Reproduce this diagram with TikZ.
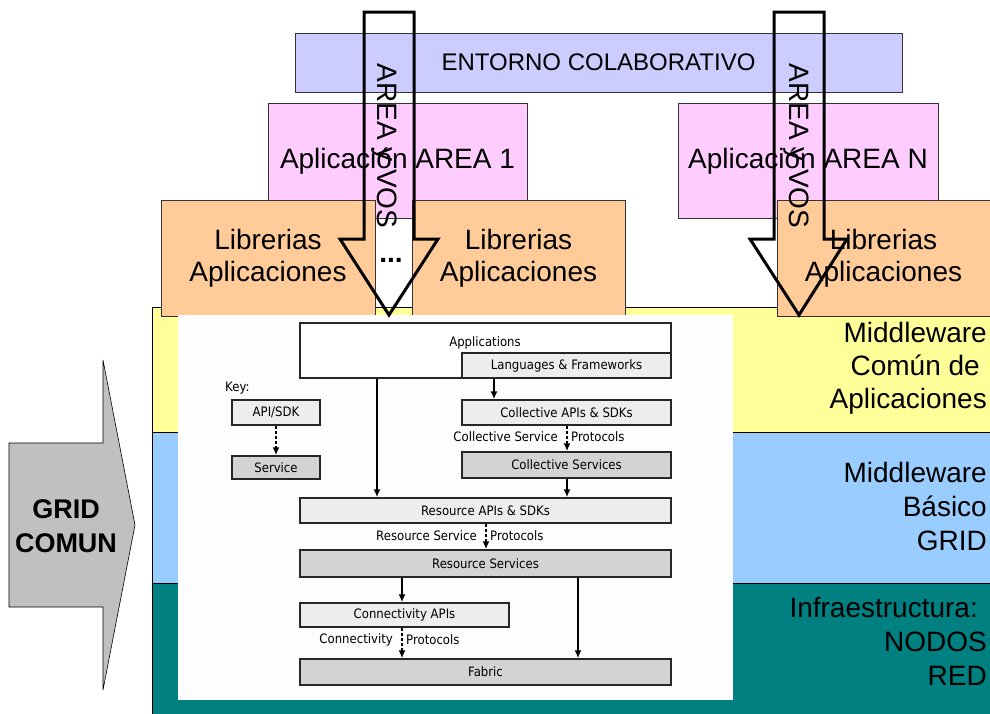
\documentclass[tikz,border=0pt]{standalone}
\usepackage{fontspec}
\setmainfont{Liberation Sans}
\newfontfamily\globusfont[FakeStretch=0.9]{DejaVu Sans}
\usetikzlibrary{arrows.meta, positioning}
\definecolor{capayel}{HTML}{FFFF99}
\definecolor{capablue}{HTML}{99CCFF}
\definecolor{capateal}{HTML}{008080}
\definecolor{entorno}{HTML}{CCCCFF}
\definecolor{areapink}{HTML}{FFCCFF}
\definecolor{libpeach}{HTML}{FFCC99}
\definecolor{gridgray}{HTML}{C0C0C0}
\definecolor{apigray}{HTML}{EDEDED}
\definecolor{svcgray}{HTML}{D3D3D3}
\definecolor{figbg}{HTML}{FDFDFD}

\begin{document}
\begin{tikzpicture}[x=1pt, y=-1pt,
	layer/.style={draw, line width=0.8pt},
	block/.style={draw=black!80, line width=0.8pt, align=center, font=\fontsize{28}{32}\selectfont},
	gbox/.style={draw=black!85, line width=1.5pt, inner sep=0, font=\globusfont\fontsize{13}{15}\selectfont},
	api/.style={gbox, fill=apigray},
	svc/.style={gbox, fill=svcgray},
	lbl/.style={inner sep=0, font=\globusfont\fontsize{13}{15}\selectfont},
	side/.style={align=right, inner sep=0},
	big/.style={draw, line width=3pt, line join=miter},
	arr/.style={->, line width=1.6pt},
	dsh/.style={->, line width=1.6pt, dash pattern=on 3pt off 2pt},
	>={Latex[length=8pt, width=7pt]}
	]
	\useasboundingbox (0,0) rectangle (990,713);
	
	% capas
	\draw[layer, fill=capayel] (152,307) rectangle (998,432);
	\draw[layer, fill=capablue] (152,432) rectangle (998,583);
	\draw[layer, fill=capateal] (152,583) rectangle (998,720);
	
	\node[block, fill=entorno, minimum width=607pt, minimum height=59pt,
		font=\fontsize{24}{28}\selectfont] (entorno) at (598.5,62.5) {ENTORNO COLABORATIVO};
	\node[block, fill=areapink, minimum width=259pt, minimum height=115pt] (area1) at (397.5,161) {Aplicación AREA 1};
	\node[block, fill=areapink, minimum width=260pt, minimum height=115pt] (arean) at (808,161) {Aplicación AREA N};
	\node[block, fill=libpeach, minimum width=214pt, minimum height=116pt] (lib1) at (268,258) {Librerias\\Aplicaciones};
	\node[block, fill=libpeach, minimum width=213pt, minimum height=116pt] (lib2) at (518.5,258) {Librerias\\Aplicaciones};
	\node[block, fill=libpeach, minimum width=213pt, minimum height=116pt] (lib3) at (883.5,258) {Librerias\\Aplicaciones};
	\node[anchor=base, font=\bfseries\fontsize{28}{32}\selectfont] (dots) at (391,262) {...};
	
	% arquitectura
	\fill[figbg] (178,315) rectangle (733,700);
	\node[gbox, fill=white, minimum width=371pt, minimum height=55pt] (apps) at (485.5,350.5) {};
	\node[lbl] (appstxt) at (485,343) {Applications};
	\node[api, minimum width=209pt, minimum height=25pt] (lang) at (566.5,365.5) {Languages \& Frameworks};
	\node[lbl, anchor=west] (key) at (225,388) {Key:};
	\node[api, minimum width=88pt, minimum height=25pt] (apisdk) at (276,412.5) {API/SDK};
	\node[svc, minimum width=88pt, minimum height=23pt] (service) at (276,467.5) {Service};
	\node[api, minimum width=209pt, minimum height=25pt] (colapi) at (566.5,412.5) {Collective APIs \& SDKs};
	\node[svc, minimum width=209pt, minimum height=26pt] (colsvc) at (566.5,465) {Collective Services};
	\node[api, minimum width=371pt, minimum height=25pt] (resapi) at (485.5,510.5) {Resource APIs \& SDKs};
	\node[svc, minimum width=371pt, minimum height=27pt] (ressvc) at (485.5,563.5) {Resource Services};
	\node[api, minimum width=209pt, minimum height=24pt] (conapi) at (404.5,615) {Connectivity APIs};
	\node[svc, minimum width=371pt, minimum height=26pt] (fabric) at (485.5,672) {Fabric};
	
	\draw[arr] (377,0 |- apps.south) -- (377,0 |- resapi.north);
	\draw[arr] (494,0 |- lang.south) -- (494,0 |- colapi.north);
	\draw[arr] (567,0 |- colsvc.south) -- (567,0 |- resapi.north);
	\draw[arr] (402,0 |- ressvc.south) -- (402,0 |- conapi.north);
	\draw[arr] (578,0 |- ressvc.south) -- (578,0 |- fabric.north);
	\draw[dsh] (apisdk) -- (service);
	\draw[dsh] (567,0 |- colapi.south) -- (567,0 |- colsvc.north);
	\draw[dsh] (486,0 |- resapi.south) -- (486,0 |- ressvc.north);
	\draw[dsh] (402,0 |- conapi.south) -- (402,0 |- fabric.north);
	
	\coordinate (cp) at (567,437);
	\node[lbl, left=9pt of cp] (colsl) {Collective Service};
	\node[lbl, right=4pt of cp] (colpr) {Protocols};
	\coordinate (rp) at (486,536);
	\node[lbl, left=9pt of rp] (ressl) {Resource Service};
	\node[lbl, right=4pt of rp] (respr) {Protocols};
	\coordinate (np) at (402,640);
	\node[lbl, left=9pt of np] (consl) {Connectivity};
	\node[lbl, right=4pt of np] (conpr) {Protocols};
	
	% etiquetas de capas
	\node[side, anchor=east, font=\fontsize{28}{33}\selectfont] (mwcomun) at (987,368) {Middleware\\Común de\kern7pt\\Aplicaciones};
	\node[side, anchor=east, font=\fontsize{28}{34}\selectfont] (mwbasico) at (987,506) {Middleware\\Básico\\GRID};
	\node[side, anchor=east, font=\fontsize{28}{34}\selectfont] (infra) at (987,641) {Infraestructura:\kern9pt\\NODOS\\RED};
	
	% flechas AREA y VOS
	\draw[big] (364,12) -- (414,12) -- (414,239) -- (438,239) -- (389,315) -- (340,239) -- (364,239) -- cycle;
	\node[rotate=-90, anchor=base, font=\fontsize{28}{32}\selectfont] (vos1) at (377,146) {AREA y VOS};
	\draw[big] (774,12) -- (824,12) -- (824,239) -- (847,239) -- (799,315) -- (750,239) -- (774,239) -- cycle;
	\node[rotate=-90, anchor=base, font=\fontsize{28}{32}\selectfont] (vosn) at (789,146) {AREA y VOS};
	
	% GRID COMUN
	\draw[fill=gridgray, line width=0.6pt] (9,443) -- (103,443) -- (103,360) -- (135,525) -- (103,690) -- (103,607) -- (9,607) -- cycle;
	\node[align=center, font=\bfseries\fontsize{27}{34}\selectfont] (grid) at (66,526) {GRID\\COMUN};
\end{tikzpicture}
\end{document}
